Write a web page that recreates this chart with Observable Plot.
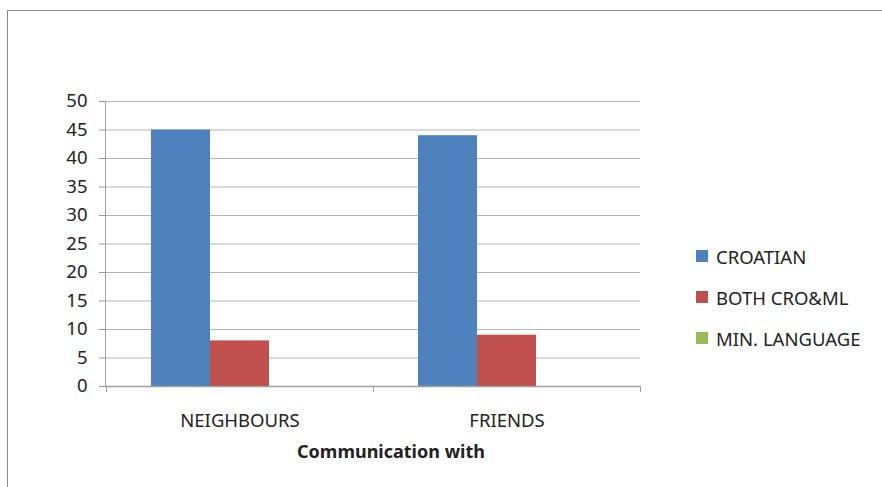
<!DOCTYPE html>
<html>
<head>
<meta charset="utf-8">
<script src="https://cdn.jsdelivr.net/npm/d3@7"></script>
<script src="https://cdn.jsdelivr.net/npm/@observablehq/plot@0.6"></script>
<style>
  html, body { margin: 0; padding: 0; background: #fff; }
  #wrap { position: relative; width: 882px; height: 487px; overflow: hidden; font-family: "Noto Sans", sans-serif; color: #222; }
  #frame { position: absolute; left: 7px; top: 10px; width: 900px; height: 500px; border-top: 1px solid #8a8a8a; border-left: 1px solid #8a8a8a; }
  #chart { position: absolute; left: 0; top: 0; }
  #title { position: absolute; left: 391px; top: 451px; transform: translate(-50%, -50%); font-weight: bold; font-size: 18px; white-space: nowrap; }
  #legend { position: absolute; left: 696px; top: 236px; font-size: 18.5px; }
  .row { height: 41px; display: flex; align-items: center; }
  .sw { width: 12px; height: 12px; margin-right: 8px; margin-top: -2px; }
</style>
</head>
<body>
<div id="wrap">
  <div id="frame"></div>
  <div id="chart"></div>
  <div id="title"></div>
  <div id="legend"></div>
</div>
<script>
const categories = ["NEIGHBOURS", "FRIENDS"];
const series = ["CROATIAN", "BOTH CRO&ML", "MIN. LANGUAGE"];
const croatian = [45, 44];
const bothCroMl = [8, 9];
const minLanguage = [0, 0];
const yTicks = [0, 5, 10, 15, 20, 25, 30, 35, 40, 45, 50];
const colors = ["#4F81BD", "#C0504D", "#9BBB59"];
const axisTitle = "Communication with";

const seriesValues = [croatian, bothCroMl, minLanguage];
const data = categories.flatMap((c, i) =>
  series.map((s, j) => ({category: c, series: s, value: seriesValues[j][i]}))
);

const plot = Plot.plot({
  width: 680,
  height: 487,
  marginLeft: 105,
  marginRight: 40,
  marginTop: 101,
  marginBottom: 101,
  style: {background: "transparent", fontFamily: "'Noto Sans', sans-serif", fontSize: "18.5px", color: "#222"},
  fx: {domain: categories, padding: 0, label: null},
  x: {domain: series, paddingInner: 0, paddingOuter: 0.73, axis: null},
  y: {domain: [0, 50], label: null},
  color: {domain: series, range: colors},
  marks: [
    Plot.gridY(yTicks, {stroke: "#b4b4b4", strokeOpacity: 1}),
    Plot.barY(data, {fx: "category", x: "series", y: "value", fill: "series"}),
    Plot.axisY(yTicks, {tickSize: 7, tickPadding: 12, stroke: "#999", fill: "#222", label: null}),
    Plot.axisFx({anchor: "bottom", tickSize: 0, tickPadding: 27, label: null, fill: "#222"})
  ]
});

document.getElementById("chart").appendChild(plot);

// axis lines and category tick marks via the plot's own scales
const fx = plot.scale("fx");
const y = plot.scale("y");
const svg = d3.select(plot);
const x0 = fx.range[0], x1 = fx.range[1];
const y0 = y.apply(0), yTop = y.apply(50);
const g = svg.append("g").attr("stroke", "#a0a0a0").attr("stroke-width", 1);
g.append("line").attr("x1", x0 + 0.5).attr("x2", x0 + 0.5).attr("y1", yTop).attr("y2", y0);
g.append("line").attr("x1", x0).attr("x2", x1).attr("y1", y0 + 0.5).attr("y2", y0 + 0.5).attr("stroke-width", 1.5);
const edges = categories.map(c => fx.apply(c)).concat([fx.apply(categories[categories.length - 1]) + fx.bandwidth]);
edges.forEach(e => {
  g.append("line").attr("x1", e + 0.5).attr("x2", e + 0.5).attr("y1", y0).attr("y2", y0 + 6);
});

document.getElementById("title").textContent = axisTitle;

const legend = document.getElementById("legend");
series.forEach((s, i) => {
  const row = document.createElement("div");
  row.className = "row";
  const sw = document.createElement("div");
  sw.className = "sw";
  sw.style.background = colors[i];
  const t = document.createElement("span");
  t.textContent = s;
  row.appendChild(sw);
  row.appendChild(t);
  legend.appendChild(row);
});
</script>
</body>
</html>
